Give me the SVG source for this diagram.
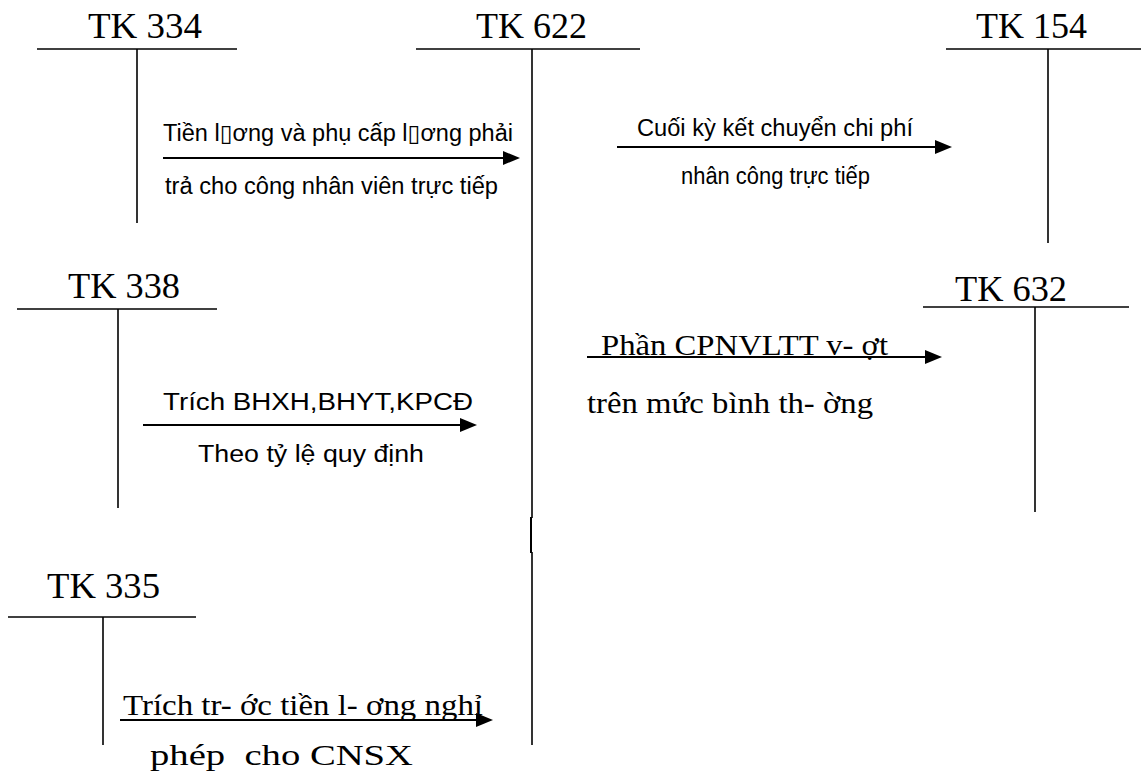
<svg xmlns="http://www.w3.org/2000/svg" width="1141" height="773" viewBox="0 0 1141 773">
<style>
  .bg { fill: #ffffff; }
  .acct { stroke: #000; stroke-width: 1.6; fill: none; }
  .conn { stroke: #000; stroke-width: 2; fill: none; marker-end: url(#arrow); }
  .tk { font-family: "Liberation Serif", "Times New Roman", serif; font-size: 35px; fill: #000; }
  .sans { font-family: "Liberation Sans", Arial, "DejaVu Sans", sans-serif; font-size: 23px; fill: #000; white-space: pre; }
  .serif { font-family: "Liberation Serif", "Times New Roman", serif; font-size: 30px; fill: #000; white-space: pre; }
</style>
<defs>
  <marker id="arrow" markerUnits="userSpaceOnUse" markerWidth="18" markerHeight="16" refX="1" refY="7" orient="auto">
    <path d="M0,0 L17,7 L0,14 z" fill="#000"/>
  </marker>
</defs>
<rect class="bg" x="0" y="0" width="1141" height="773"/>

<g id="tk334">
  <text class="tk" x="88" y="38" textLength="114" lengthAdjust="spacingAndGlyphs">TK 334</text>
  <line class="acct" x1="37" y1="49" x2="237" y2="49"/>
  <line class="acct" x1="137" y1="49" x2="137" y2="223"/>
</g>
<g id="tk622">
  <text class="tk" x="476" y="38" textLength="111" lengthAdjust="spacingAndGlyphs">TK 622</text>
  <line class="acct" x1="416" y1="49" x2="640" y2="49"/>
  <line class="acct" x1="532" y1="49" x2="532" y2="518"/>
  <line class="acct" x1="531" y1="517" x2="531" y2="553" style="stroke-width:2"/>
  <line class="acct" x1="532" y1="552" x2="532" y2="745"/>
</g>
<g id="tk154">
  <text class="tk" x="976" y="38" textLength="111" lengthAdjust="spacingAndGlyphs">TK 154</text>
  <line class="acct" x1="946" y1="49" x2="1141" y2="49"/>
  <line class="acct" x1="1048" y1="49" x2="1048" y2="243"/>
</g>
<g id="tk338">
  <text class="tk" x="68" y="298" textLength="112" lengthAdjust="spacingAndGlyphs">TK 338</text>
  <line class="acct" x1="17" y1="309" x2="217" y2="309"/>
  <line class="acct" x1="118" y1="309" x2="118" y2="508"/>
</g>
<g id="tk632">
  <text class="tk" x="955" y="301" textLength="112" lengthAdjust="spacingAndGlyphs">TK 632</text>
  <line class="acct" x1="923" y1="307" x2="1129" y2="307"/>
  <line class="acct" x1="1035" y1="307" x2="1035" y2="512"/>
</g>
<g id="tk335">
  <text class="tk" x="47" y="598" textLength="113" lengthAdjust="spacingAndGlyphs">TK 335</text>
  <line class="acct" x1="8" y1="617" x2="196" y2="617"/>
  <line class="acct" x1="103" y1="617" x2="103" y2="745"/>
</g>

<g id="connectors">
  <g id="c334-622">
    <line class="conn" x1="163" y1="158" x2="504" y2="158"/>
    <text class="sans" x="163" y="141" textLength="350" lengthAdjust="spacingAndGlyphs">Tiền l▯ơng và phụ cấp l▯ơng phải</text>
    <text class="sans" x="165" y="194" textLength="333" lengthAdjust="spacingAndGlyphs">trả cho công nhân viên trực tiếp</text>
  </g>
  <g id="c622-154">
    <line class="conn" x1="617" y1="147" x2="936" y2="147"/>
    <text class="sans" x="637" y="136" textLength="276" lengthAdjust="spacingAndGlyphs">Cuối kỳ kết chuyển chi phí</text>
    <text class="sans" x="681" y="184" textLength="189" lengthAdjust="spacingAndGlyphs">nhân công trực tiếp</text>
  </g>
  <g id="c622-632">
    <line class="conn" x1="587" y1="357" x2="926" y2="357"/>
    <text class="serif" x="601" y="355" textLength="287" lengthAdjust="spacingAndGlyphs">Phần CPNVLTT v- ợt</text>
    <text class="serif" x="587" y="413" textLength="286" lengthAdjust="spacingAndGlyphs">trên mức bình th- ờng</text>
  </g>
  <g id="c338-622">
    <line class="conn" x1="143" y1="425" x2="461" y2="425"/>
    <text class="sans" x="163" y="410" textLength="310" lengthAdjust="spacingAndGlyphs">Trích BHXH,BHYT,KPCĐ</text>
    <text class="sans" x="198" y="462" textLength="226" lengthAdjust="spacingAndGlyphs">Theo tỷ lệ quy định</text>
  </g>
  <g id="c335-622">
    <line class="conn" x1="120" y1="720" x2="477" y2="720"/>
    <text class="serif" x="123" y="715" textLength="360" lengthAdjust="spacingAndGlyphs">Trích tr- ớc tiền l- ơng nghỉ</text>
    <text class="serif" x="150" y="765" textLength="263" lengthAdjust="spacingAndGlyphs">phép  cho CNSX</text>
  </g>
</g>
</svg>
